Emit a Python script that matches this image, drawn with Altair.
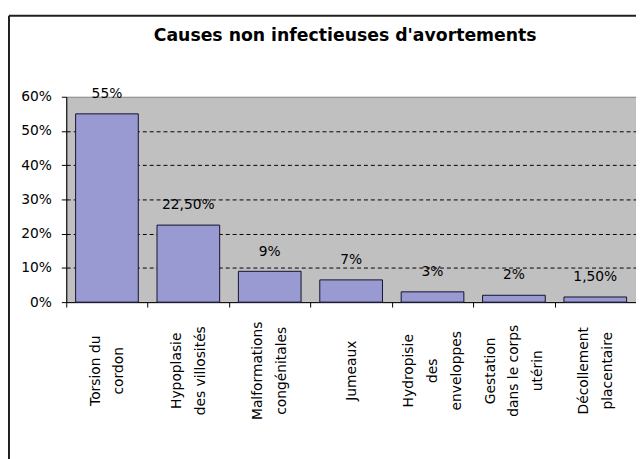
import altair as alt
import pandas as pd

causes = [
    "Torsion du\ncordon",
    "Hypoplasie\ndes villosités",
    "Malformations\ncongénitales",
    "Jumeaux",
    "Hydropisie\ndes\nenveloppes",
    "Gestation\ndans le corps\nutérin",
    "Décollement\nplacentaire",
]
values = [55, 22.5, 9, 6.5, 3, 2, 1.5]
labels = ["55%", "22,50%", "9%", "7%", "3%", "2%", "1,50%"]
y_ticks = [0, 10, 20, 30, 40, 50, 60]

df = pd.DataFrame({"cause": causes, "value": values, "label": labels})

FONT = "DejaVu Sans"
W, H = 577, 208
LH = 24

x_axis = alt.Axis(
    labelExpr="split(datum.label, '\\n')",
    labelAngle=270,
    labelAlign="center",
    labelBaseline="middle",
    labelPadding=64,
    labelLineHeight=LH,
    labelFont=FONT,
    labelFontSize=14,
    labelColor="#000000",
    labelLimit=300,
    labelOffset={
        "condition": [
            {"test": "length(split(datum.label, '\\n')) == 2", "value": -LH / 2},
            {"test": "length(split(datum.label, '\\n')) == 3", "value": -LH},
        ],
        "value": 0,
    },
    tickBand="extent",
    tickSize=5,
    tickColor="#000000",
    domainColor="#000000",
    labelOverlap=False,
)
y_axis = alt.Axis(
    values=y_ticks,
    labelExpr="datum.value + '%'",
    labelFont=FONT,
    labelFontSize=14,
    labelColor="#000000",
    labelPadding=10,
    labelOverlap=False,
    tickSize=5,
    tickColor="#000000",
    domainColor="#000000",
    grid=True,
    gridColor="#000000",
    gridDash=[4, 3],
    gridWidth=1,
    gridOpacity={"condition": {"test": "datum.value == 0 || datum.value == 60", "value": 0}, "value": 1},
)

x_enc = alt.X(
    "cause:N",
    sort=None,
    title=None,
    scale=alt.Scale(paddingInner=0, paddingOuter=0),
    axis=x_axis,
)
y_enc = alt.Y(
    "value:Q",
    title=None,
    scale=alt.Scale(domain=[0, 60], nice=False),
    axis=y_axis,
)

bars = alt.Chart(df).mark_bar(
    fill="#9a9ad2", stroke="#101030", strokeWidth=1,
    width=alt.RelativeBandSize(0.77),
).encode(x=x_enc, y=y_enc)

texts = alt.Chart(df).mark_text(
    dy=-16, baseline="alphabetic", font=FONT, fontSize=14, color="#000000"
).encode(x=x_enc, y=y_enc, text="label:N")

frame_df = pd.DataFrame({"k": [0]})
top_line = alt.Chart(frame_df).mark_rule(color="#202020", strokeWidth=2).encode(
    x=alt.value(-58), x2=alt.value(W + 10), y=alt.value(-82)
)
left_line = alt.Chart(frame_df).mark_rule(color="#202020", strokeWidth=2).encode(
    x=alt.value(-58), y=alt.value(-82), y2=alt.value(H + 200)
)

chart = (
    alt.layer(bars, texts, top_line, left_line)
    .properties(
        width=W,
        height=H,
        padding={"left": 59, "top": 87, "right": 0, "bottom": 156},
        autosize=alt.AutoSizeParams(type="none"),
        title=alt.TitleParams(
            "Causes non infectieuses d'avortements",
            font=FONT,
            fontSize=17.5,
            fontWeight="bold",
            color="#000000",
            anchor="middle",
            frame="group",
            baseline="alphabetic",
            offset=0,
            dy=44,
            dx=-6,
        ),
        background="#ffffff",
    )
    .configure_view(fill="#c0c0c0", stroke="#808080", strokeWidth=1)
)

chart.save("out.html", embed_options={"renderer": "svg", "actions": False})
